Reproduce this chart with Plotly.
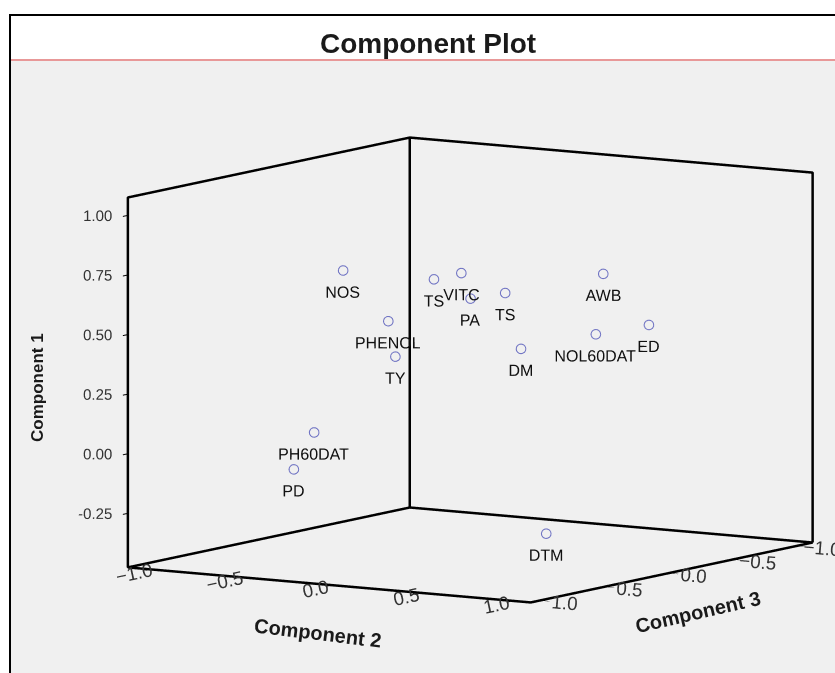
import plotly.graph_objects as go

# ---- data (loadings) ----
labels = ["NOS", "TS", "VITC", "PA", "TS", "AWB", "PHENOL", "ED",
          "NOL60DAT", "DM", "TY", "PH60DAT", "PD", "DTM"]
comp1 = [0.72, 0.70, 0.72, 0.60, 0.62, 0.72, 0.54, 0.49, 0.48, 0.44, 0.41, 0.03, -0.10, -0.31]
comp2 = [-0.49, -0.06, 0.02, 0.00, 0.12, 0.59, -0.17, 0.70, 0.62, 0.42, -0.06, -0.65, -0.62, 0.63]
comp3 = [0.30, 0.20, 0.10, 0.00, -0.10, -0.20, 0.40, -0.40, -0.10, 0.20, 0.50, 0.30, 0.50, 0.30]

c1_ticks = [-0.25, 0.0, 0.25, 0.5, 0.75, 1.0]
c2_ticks = [-1.0, -0.5, 0.0, 0.5, 1.0]
c3_ticks = [-1.0, -0.5, 0.0, 0.5, 1.0]

c1_range = [-0.48, 1.08]
c2_range = [-1.115, 1.115]
c3_range = [-1.1, 1.1]

# plotly x = Component 3, y = Component 2, z = Component 1
pad = 0.004
x0, x1 = c3_range[0] + pad, c3_range[1] - pad
y0, y1 = c2_range[0] + pad, c2_range[1] - pad
z0, z1 = c1_range[0] + pad, c1_range[1] - pad
L = (x1, y0); F = (x1, y1); R = (x0, y1); B = (x0, y0)
seq = [(L, z0), (F, z0), (R, z0), (B, z0), (L, z0), (L, z1), (B, z1), (R, z1), (R, z0), None, (B, z0), (B, z1)]
bx, by, bz = [], [], []
for s in seq:
    if s is None:
        bx.append(None); by.append(None); bz.append(None)
    else:
        (px, py), pz = s
        bx.append(px); by.append(py); bz.append(pz)

fig = go.Figure()
fig.add_trace(go.Scatter3d(x=bx, y=by, z=bz, mode="lines",
                           line=dict(color="black", width=5),
                           hoverinfo="skip", showlegend=False))
# Component 1 tick labels, placed at the tick values on the left vertical edge
fig.add_trace(go.Scatter3d(
    x=[c3_range[1]] * len(c1_ticks), y=[c2_range[0]] * len(c1_ticks), z=c1_ticks,
    mode="text", text=[f"{v:.2f}" for v in c1_ticks], textposition="middle left",
    textfont=dict(family="Arial", size=15, color="#333333"),
    hoverinfo="skip", showlegend=False))
fig.add_trace(go.Scatter3d(
    x=comp3, y=comp2, z=comp1, mode="markers+text", text=labels,
    textposition="bottom center",
    textfont=dict(family="Arial", size=16, color="#111111"),
    marker=dict(symbol="circle-open", size=6, color="#7175c4"),
    hoverinfo="text", showlegend=False))

ax_common = dict(showgrid=False, showbackground=False, zeroline=False,
                 showspikes=False, showline=False, ticks="outside",
                 ticklen=7, tickwidth=2, tickcolor="black",
                 tickfont=dict(family="Arial", size=15, color="#333333"))

eye_dir = (0.835, 0.534, 0.136)
D = 1.262
k = 1.584
shift = (0.0938, -0.1467, 0.0)   # moves the view so the box sits right of the page centre
fig.update_layout(
    width=835, height=673,
    margin=dict(l=0, r=0, t=0, b=0),
    paper_bgcolor="white",
    title=dict(text="<b>Component Plot</b>", x=0.5126, xanchor="center",
               y=1 - 43 / 673, yanchor="middle",
               font=dict(family="Arial", size=28, color="#1a1a1a")),
    scene=dict(
        domain=dict(x=[0.0, 1.0], y=[0.0, 0.9004]),
        bgcolor="rgba(0,0,0,0)",
        aspectmode="manual",
        aspectratio=dict(x=1.094 * k, y=1.0 * k, z=0.782 * k),
        camera=dict(eye=dict(x=D * eye_dir[0] + shift[0], y=D * eye_dir[1] + shift[1],
                             z=D * eye_dir[2] + shift[2]),
                    up=dict(x=0, y=0, z=1),
                    center=dict(x=shift[0], y=shift[1], z=shift[2]),
                    projection=dict(type="orthographic")),
        xaxis=dict(ax_common, range=c3_range, tickvals=c3_ticks, tickformat=".1f",
                   title=dict(text="")),
        yaxis=dict(ax_common, range=c2_range, tickvals=c2_ticks, tickformat=".1f",
                   title=dict(text="")),
        zaxis=dict(ax_common, range=c1_range, tickvals=c1_ticks, showticklabels=False,
                   title=dict(text="")),
    ),
    annotations=[
        dict(text="<b>Component 1</b>", xref="paper", yref="paper",
             x=38 / 835, y=1 - 388 / 673, xanchor="center", yanchor="middle",
             textangle=-90, showarrow=False,
             font=dict(family="Arial", size=17, color="#1a1a1a")),
        dict(text="<b>Component 2</b>", xref="paper", yref="paper",
             x=318 / 835, y=1 - 633 / 673, xanchor="center", yanchor="middle",
             textangle=7, showarrow=False,
             font=dict(family="Arial", size=20, color="#1a1a1a")),
        dict(text="<b>Component 3</b>", xref="paper", yref="paper",
             x=698 / 835, y=1 - 612 / 673, xanchor="center", yanchor="middle",
             textangle=-13, showarrow=False,
             font=dict(family="Arial", size=20, color="#1a1a1a")),
    ],
    shapes=[
        dict(type="rect", xref="paper", yref="paper", layer="below",
             x0=10 / 835, x1=1.05, y0=-0.05, y1=1 - 15 / 673,
             line=dict(color="black", width=2), fillcolor="#f0f0f0"),
        dict(type="rect", xref="paper", yref="paper", layer="below",
             x0=11 / 835, x1=1.05, y0=1 - 60 / 673, y1=1 - 16 / 673,
             line=dict(width=0), fillcolor="white"),
        dict(type="line", xref="paper", yref="paper", layer="below",
             x0=11 / 835, x1=1.05, y0=1 - 60 / 673, y1=1 - 60 / 673,
             line=dict(color="#e89898", width=2)),
    ],
)

fig.write_html("out.html", config={"displayModeBar": False},
               post_script="document.body.style.margin='0';document.body.style.overflow='hidden';")
